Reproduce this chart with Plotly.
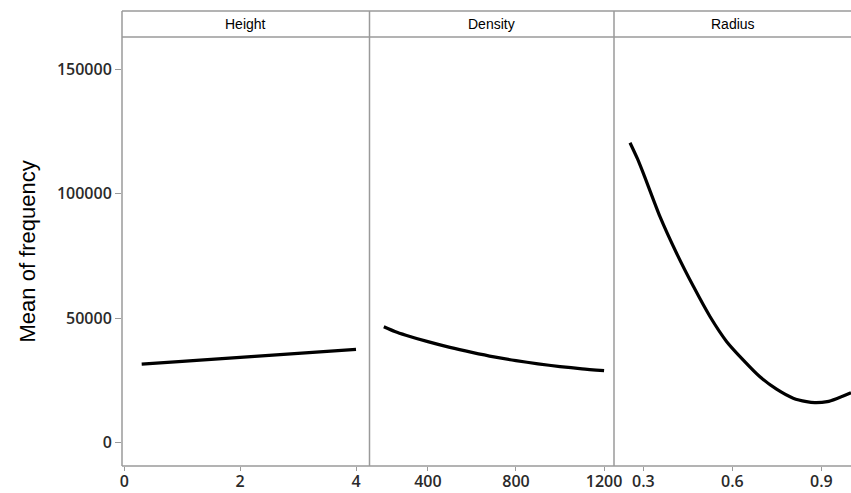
import plotly.graph_objects as go

# ---- data ----
panel_names = ["Height", "Density", "Radius"]

height_x = [0.3, 1.0, 1.5, 2.0, 2.5, 3.0, 3.5, 4.0]
height_y = [31500, 32600, 33400, 34200, 35000, 35800, 36600, 37400]

density_x = [200, 250, 300, 400, 500, 600, 700, 800, 900, 1000, 1100, 1200]
density_y = [46500, 44600, 43100, 40500, 38200, 36200, 34400, 32900, 31600, 30500, 29600, 28900]

radius_x = [0.255, 0.28, 0.30, 0.356, 0.412, 0.469, 0.525, 0.581, 0.637, 0.693, 0.749, 0.805, 0.85, 0.878, 0.92, 0.951, 1.0]
radius_y = [120400, 114000, 108100, 90700, 76000, 62600, 50500, 40500, 33100, 26400, 21400, 17800, 16400, 16000, 16400, 17600, 20000]

height_ticks = [0, 2, 4]
density_ticks = [400, 800, 1200]
radius_ticks = [0.3, 0.6, 0.9]
y_ticks = [0, 50000, 100000, 150000]
y_title = "Mean of frequency"

# ---- layout geometry ----
W, H = 851, 493
ML, MR, MT, MB = 122, 0, 11, 27
pw = W - ML - MR
ph = H - MT - MB
hdr_bottom = (466 - 37) / ph  # paper y of header bottom
d1 = (369.5 - ML) / pw
d2 = (614 - ML) / pw

frame = "#9a9a9a"
xtickfont = dict(family="Open Sans", size=16, color="#2a2a2a", weight=600)
ytickfont = dict(family="Open Sans", size=16, color="#2a2a2a", weight=600)

fig = go.Figure()
series = [(height_x, height_y, "x", "y"), (density_x, density_y, "x2", "y2"), (radius_x, radius_y, "x3", "y3")]
for xs, ys, xa, ya in series:
    fig.add_trace(go.Scatter(x=xs, y=ys, mode="lines", xaxis=xa, yaxis=ya,
                             line=dict(color="black", width=3.2, shape="spline", smoothing=0.6),
                             showlegend=False, hoverinfo="skip"))

yrange = [-9440, 162850]
common_x = dict(showgrid=False, zeroline=False, showline=False, ticks="outside", ticklen=4,
                tickcolor=frame, tickwidth=1, tickfont=xtickfont, anchor="free", position=0,
                automargin=False, ticklabelstandoff=-3)

fig.update_layout(
    template="none",
    width=W, height=H,
    autosize=False,
    margin=dict(l=ML, r=MR, t=MT, b=MB, pad=0),
    paper_bgcolor="white", plot_bgcolor="white",
    xaxis=dict(domain=[0, d1], range=[-0.04, 4.233], tickvals=height_ticks, **common_x),
    xaxis2=dict(domain=[d1, d2], range=[135, 1245], tickvals=density_ticks, **common_x),
    xaxis3=dict(domain=[d2, 1], range=[0.201, 1.0], tickvals=radius_ticks,
                ticktext=[f"{v:.1f}" for v in radius_ticks], **common_x),
    yaxis=dict(domain=[0, hdr_bottom], range=yrange, tickvals=y_ticks,
               ticktext=[str(v) for v in y_ticks], ticks="outside", ticklen=6,
               tickcolor=frame, tickwidth=1, tickfont=ytickfont, showgrid=False, zeroline=False,
               showline=False, anchor="x", automargin=False),
    yaxis2=dict(domain=[0, hdr_bottom], range=yrange, matches="y", visible=False, anchor="x2",
                automargin=False),
    yaxis3=dict(domain=[0, hdr_bottom], range=yrange, matches="y", visible=False, anchor="x3",
                automargin=False),
)

shapes = []
lw = dict(color=frame, width=1.5)
shapes.append(dict(type="line", xref="paper", yref="paper", x0=0, x1=0, y0=0, y1=1, line=lw))
shapes.append(dict(type="line", xref="paper", yref="paper", x0=0, x1=1, y0=1, y1=1, line=lw))
shapes.append(dict(type="line", xref="paper", yref="paper", x0=0, x1=1, y0=0, y1=0, line=lw))
shapes.append(dict(type="line", xref="paper", yref="paper", x0=0, x1=1, y0=hdr_bottom, y1=hdr_bottom, line=lw))
for d in (d1, d2):
    shapes.append(dict(type="line", xref="paper", yref="paper", x0=d, x1=d, y0=0, y1=1, line=lw))
fig.update_layout(shapes=shapes)

bounds = [(0, d1), (d1, d2), (d2, 1)]
for name, (a, b) in zip(panel_names, bounds):
    fig.add_annotation(text=name, xref="paper", yref="paper", x=(a + b) / 2, y=(1 + hdr_bottom) / 2,
                       showarrow=False, xanchor="center", yanchor="middle",
                       font=dict(family="Liberation Sans", size=14, color="black"))

# y-axis title
fig.add_annotation(text=y_title, xref="paper", yref="paper", x=(27 - ML) / pw, y=hdr_bottom / 2,
                   textangle=-90, showarrow=False, xanchor="center", yanchor="middle",
                   font=dict(family="Liberation Sans", size=22, color="black"))

fig.write_html("out.html")
